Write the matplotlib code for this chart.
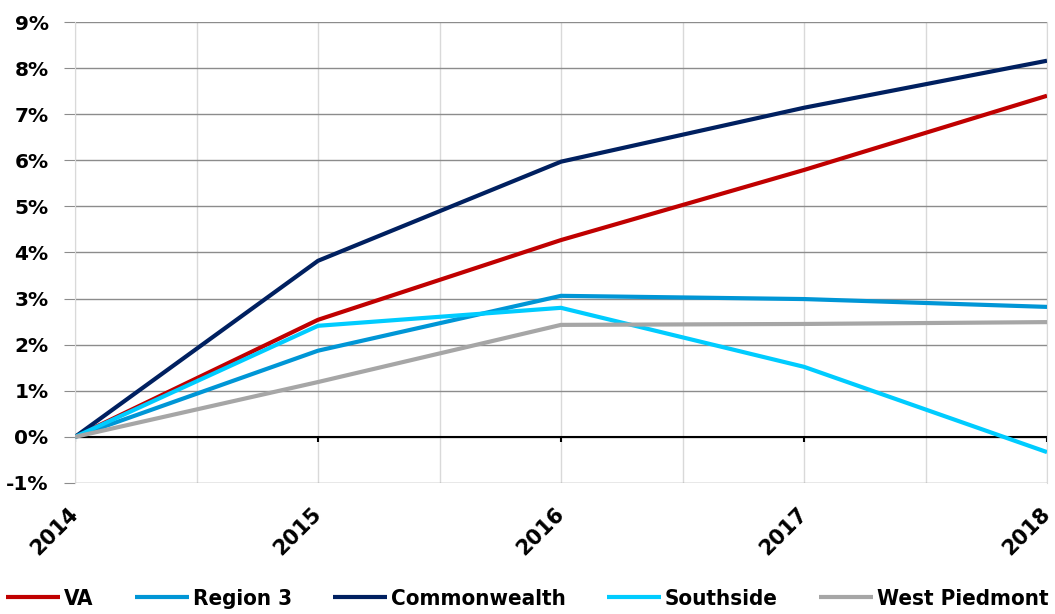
import matplotlib
matplotlib.use("Agg")
import matplotlib.pyplot as plt
from matplotlib.ticker import FuncFormatter, MultipleLocator

years = [2014, 2015, 2016, 2017, 2018]
series_names = ["VA", "Region 3", "Commonwealth", "Southside", "West Piedmont"]
va = [0.0, 2.54, 4.27, 5.79, 7.40]
region3 = [0.0, 1.87, 3.06, 2.99, 2.82]
commonwealth = [0.0, 3.82, 5.97, 7.14, 8.16]
southside = [0.0, 2.41, 2.80, 1.52, -0.33]
west_piedmont = [0.0, 1.19, 2.43, 2.45, 2.49]
colors = ["#C00000", "#0096D6", "#002060", "#00CCFF", "#A6A6A6"]

fig = plt.figure(figsize=(10.55, 6.14), dpi=100)
ax = fig.add_axes([75/1055, 1-483/614, (1047-75)/1055, (483-22)/614])

for name, vals, c in zip(series_names, [va, region3, commonwealth, southside, west_piedmont], colors):
    ax.plot(years, vals, color=c, lw=3.0, label=name, solid_capstyle="butt", zorder=3)

ax.set_xlim(2014, 2018)
ax.set_ylim(-1, 9)
ax.yaxis.set_major_locator(MultipleLocator(1))
ax.yaxis.set_major_formatter(FuncFormatter(lambda v, p: f"{v:.0f}%"))
ax.set_xticks(years)
ax.set_xticks([2014.5, 2015.5, 2016.5, 2017.5], minor=True)

ax.grid(axis="y", which="major", color="#8C8C8C", lw=1.0, zorder=1)
ax.grid(axis="x", which="both", color="#D9D9D9", lw=1.0, zorder=1)
ax.axhline(0, color="black", lw=1.5, zorder=2)
ax.vlines(years, -0.12, 0, color="black", lw=1.5, zorder=2)

for s in ["top", "bottom"]:
    ax.spines[s].set_visible(False)
ax.spines["left"].set_color("#D9D9D9")
ax.spines["right"].set_color("#D9D9D9")
ax.tick_params(axis="y", which="major", length=8, color="#8C8C8C", labelsize=14.5, pad=11)
ax.tick_params(axis="x", which="both", length=0, labelsize=15, pad=20)
for lbl in ax.get_yticklabels():
    lbl.set_fontweight("bold")
for lbl in ax.get_xticklabels():
    lbl.set_fontweight("bold")
    lbl.set_rotation(45)
    lbl.set_ha("right")
    lbl.set_va("center")
    lbl.set_rotation_mode("anchor")

handles, labels = ax.get_legend_handles_labels()
fig.legend(handles, labels, loc="center", bbox_to_anchor=(0.5, 1-599/614), ncol=5,
           frameon=False, handlelength=2.43, handletextpad=0.18, columnspacing=1.85,
           prop={"family": "DejaVu Sans", "stretch": "condensed", "weight": "bold", "size": 16})

fig.savefig("out.png", dpi=100)
